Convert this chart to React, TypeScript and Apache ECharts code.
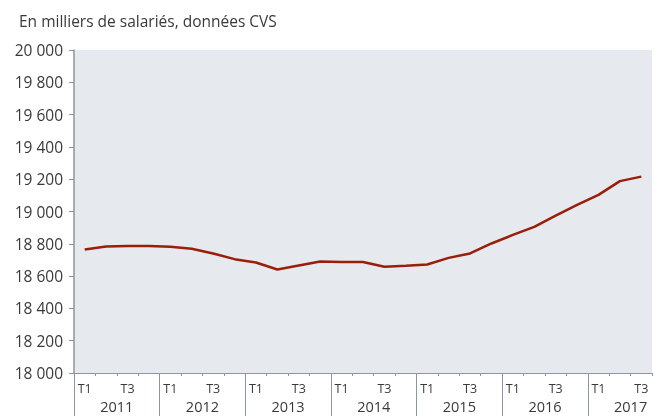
import React, { useEffect, useRef } from "react";
import * as echarts from "echarts";

const years = ["2011", "2012", "2013", "2014", "2015", "2016", "2017"];
const quartersPerYear = [4, 4, 4, 4, 4, 4, 3];
const quarterNames = ["T1", "T2", "T3", "T4"];
const shownQuarters = ["T1", "T3"];
const salaries = [
  18765, 18783, 18787, 18787, 18781, 18769, 18740, 18705, 18684,
  18641, 18666, 18690, 18687, 18687, 18658, 18664, 18672, 18713,
  18740, 18802, 18855, 18905, 18975, 19041, 19103, 19188, 19216,
];
const yTicks = { min: 18000, max: 20000, step: 200 };
const title = "En milliers de salariés, données CVS";

const FONT = "'Open Sans', 'Noto Sans', sans-serif";
const AXIS_GRAY = "#8d96a0";
const TEXT = "#3a3a3a";

export default function App() {
  const ref = useRef<HTMLDivElement>(null);
  useEffect(() => {
    if (!ref.current) return;
    const chart = echarts.init(ref.current, null, { renderer: "svg" });
    const categories: string[] = [];
    const yearStarts: number[] = [];
    const yearCenters: number[] = [];
    let pos = 0;
    years.forEach((y, i) => {
      yearStarts.push(pos);
      yearCenters.push(pos + 2);
      for (let q = 0; q < quartersPerYear[i]; q++) categories.push(quarterNames[q]);
      pos += quartersPerYear[i];
    });
    const total = categories.length;
    const fmt = (v: number) => String(v).replace(/\B(?=(\d{3})+(?!\d))/g, " ");
    chart.setOption({
      animation: false,
      title: {
        text: title,
        left: 14,
        top: 8,
        textStyle: { fontFamily: FONT, fontSize: 15.5, fontWeight: "normal", color: TEXT },
      },
      grid: {
        left: 74,
        top: 50,
        width: 578,
        height: 323,
        show: true,
        backgroundColor: "#e6e9ee",
        borderWidth: 0,
      },
      xAxis: [
        {
          type: "category",
          data: categories,
          boundaryGap: true,
          position: "bottom",
          axisLine: { show: true, lineStyle: { color: AXIS_GRAY, width: 1 } },
          axisTick: { show: true, interval: 0, length: 3, lineStyle: { color: AXIS_GRAY } },
          axisLabel: {
            interval: 0,
            margin: 8,
            fontFamily: FONT,
            fontSize: 12.5,
            lineHeight: 14,
            color: TEXT,
            formatter: (v: string) => (shownQuarters.includes(v) ? v : ""),
          },
          splitLine: { show: false },
        },
        {
          type: "value",
          min: 0,
          max: total,
          position: "bottom",
          axisLine: { show: false },
          axisTick: {
            show: true,
            customValues: yearStarts,
            length: 46,
            lineStyle: { color: AXIS_GRAY, width: 1 },
          },
          axisLabel: {
            customValues: yearCenters,
            margin: 25,
            fontFamily: FONT,
            fontSize: 14.5,
            lineHeight: 16,
            color: TEXT,
            formatter: (v: number) => {
              const idx = yearCenters.indexOf(v);
              return idx >= 0 ? years[idx] : "";
            },
          },
          splitLine: { show: false },
        },
      ],
      yAxis: {
        type: "value",
        min: yTicks.min,
        max: yTicks.max,
        interval: yTicks.step,
        axisLine: { show: true, lineStyle: { color: AXIS_GRAY, width: 1.5 } },
        axisTick: { show: true, length: 5, lineStyle: { color: AXIS_GRAY } },
        axisLabel: {
          margin: 11,
          fontFamily: FONT,
          fontSize: 15.5,
          color: TEXT,
          formatter: (v: number) => fmt(v),
        },
        splitLine: { show: false },
      },
      series: [
        {
          type: "line",
          xAxisIndex: 0,
          data: salaries,
          symbol: "none",
          lineStyle: { color: "#9a1f0b", width: 2.5 },
        },
      ],
    });
    return () => chart.dispose();
  }, []);
  return (
    <div
      ref={ref}
      style={{ position: "fixed", left: 0, top: 0, width: 660, height: 416 }}
    />
  );
}
